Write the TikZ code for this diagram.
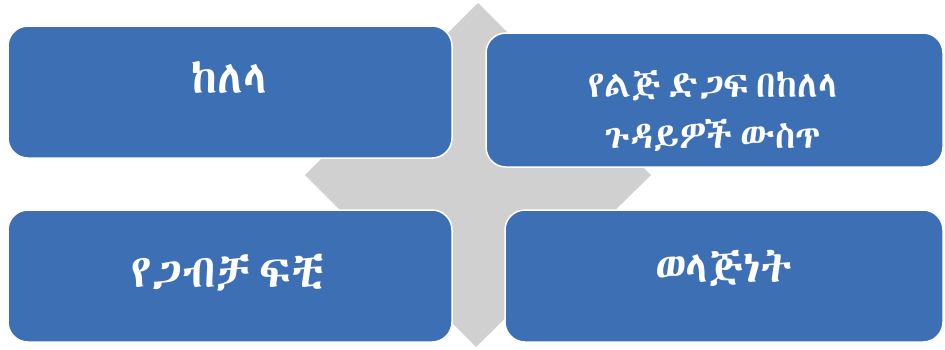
\documentclass[tikz,border=0pt]{standalone}
\usepackage{fontspec}
\IfFontExistsTF{Abyssinica SIL}{\newfontfamily\ethfont{Abyssinica SIL}}{%
  \IfFontExistsTF{FreeSans}{\newfontfamily\ethfont{FreeSans}}{%
    \IfFontExistsTF{FreeSerif}{\newfontfamily\ethfont{FreeSerif}}{%
      \newfontfamily\ethfont{DejaVu Sans}}}}
\definecolor{boxblue}{HTML}{3D6FB5}
\definecolor{crossgrey}{HTML}{D0D0D0}
\newcommand{\ethsize}[2]{\ethfont\fontsize{#1}{#2}\selectfont\spaceskip=0.2em}
\tikzset{
  quadbox/.style={fill=boxblue, draw=white, line width=1.5pt, rounded corners=20pt},
  quadtext/.style={text=white, align=center, inner sep=0pt},
}
\begin{document}
\begin{tikzpicture}[x=1pt,y=-1pt]
\useasboundingbox (0,0) rectangle (945,349);
% grey diamond background
\fill[crossgrey] (478,3) -- (651,175) -- (476,347) -- (305,175) -- cycle;
% boxes
\draw[quadbox] (8,26) rectangle (452,158);
\draw[quadbox] (486,33) rectangle (943,167);
\draw[quadbox] (8,210) rectangle (452,342);
\draw[quadbox] (505,210) rectangle (943,342);
% labels
\node[quadtext, font=\ethsize{46}{52}] (tl) at (229,78) {ከለላ};
\node[quadtext, font=\ethsize{37}{51}] (tr) at (713,111) {የልጅ ድጋፍ በከለላ\\ጉዳይዎች ውስጥ};
\node[quadtext, font=\ethsize{46}{52}] (bl) at (228,273) {የጋብቻ ፍቺ};
\node[quadtext, font=\ethsize{44}{52}] (br) at (724,268) {ወላጅነት};
\end{tikzpicture}
\end{document}
